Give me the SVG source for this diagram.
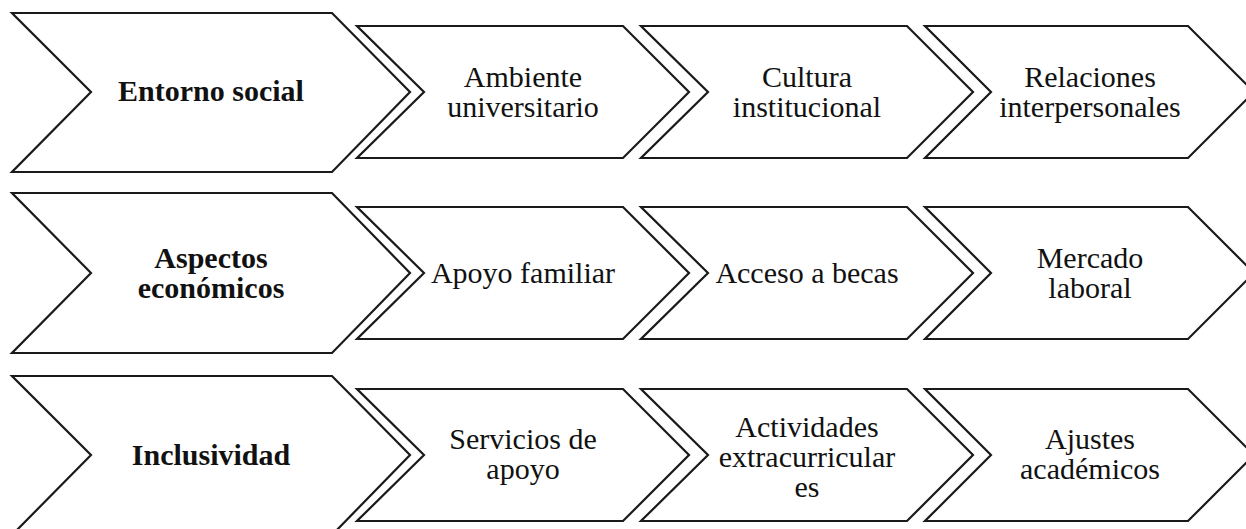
<svg xmlns="http://www.w3.org/2000/svg" width="1246" height="529" viewBox="0 0 1246 529">
<style>
.ch{fill:#ffffff;stroke:#1a1a1a;stroke-width:2.2;stroke-linejoin:miter}
text{font-family:'Liberation Serif','Times New Roman',Times,'DejaVu Serif',serif;font-size:30px;fill:#111111;text-anchor:middle}
.b{font-weight:bold}
</style>
<rect width="1246" height="529" fill="#ffffff"/>
<g id="row1" font-family="Liberation Serif, Times New Roman, serif">
<g id="n-entorno"><polygon class="ch" points="12,13 332,13 410,92 332,172 12,172 91,92"/><text class="b" x="211" y="101">Entorno social</text></g>
<g id="n-ambiente"><polygon class="ch" points="357,26 623,26 689,92 623,158 357,158 424,92"/><text x="523" y="87">Ambiente</text><text x="523" y="117">universitario</text></g>
<g id="n-cultura"><polygon class="ch" points="641,26 907,26 973,92 907,158 641,158 708,92"/><text x="807" y="87">Cultura</text><text x="807" y="117">institucional</text></g>
<g id="n-relaciones"><polygon class="ch" points="925,26 1188,26 1254,92 1188,158 925,158 991,92"/><text x="1090" y="87">Relaciones</text><text x="1090" y="117">interpersonales</text></g>
</g>
<g id="row2" font-family="Liberation Serif, Times New Roman, serif">
<g id="n-aspectos"><polygon class="ch" points="12,193 332,193 410,273 332,353 12,353 91,273"/><text class="b" x="211" y="268">Aspectos</text><text class="b" x="211" y="298">económicos</text></g>
<g id="n-apoyo"><polygon class="ch" points="357,207 623,207 689,273 623,339 357,339 424,273"/><text x="523" y="283">Apoyo familiar</text></g>
<g id="n-becas"><polygon class="ch" points="641,207 907,207 973,273 907,339 641,339 708,273"/><text x="807" y="283">Acceso a becas</text></g>
<g id="n-mercado"><polygon class="ch" points="925,207 1188,207 1254,273 1188,339 925,339 991,273"/><text x="1090" y="268">Mercado</text><text x="1090" y="298">laboral</text></g>
</g>
<g id="row3" font-family="Liberation Serif, Times New Roman, serif">
<g id="n-inclusividad"><polygon class="ch" points="12,376 332,376 410,455 332,535 12,535 91,455"/><text class="b" x="211" y="465">Inclusividad</text></g>
<g id="n-servicios"><polygon class="ch" points="357,389 623,389 689,455 623,521 357,521 424,455"/><text x="523" y="449">Servicios de</text><text x="523" y="479">apoyo</text></g>
<g id="n-actividades"><polygon class="ch" points="641,389 907,389 973,455 907,521 641,521 708,455"/><text x="807" y="437">Actividades</text><text x="807" y="467">extracurricular</text><text x="807" y="497">es</text></g>
<g id="n-ajustes"><polygon class="ch" points="925,389 1188,389 1254,455 1188,521 925,521 991,455"/><text x="1090" y="449">Ajustes</text><text x="1090" y="479">académicos</text></g>
</g>
<g id="connectors"></g>
</svg>
